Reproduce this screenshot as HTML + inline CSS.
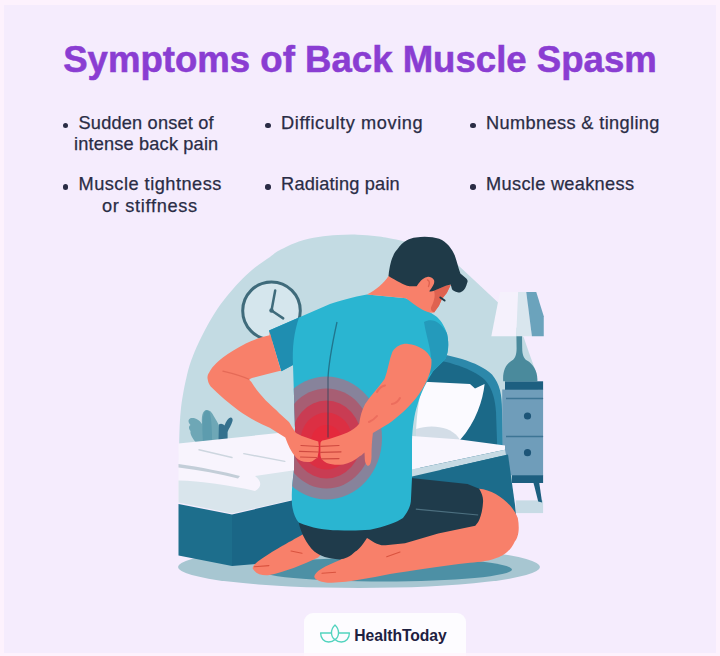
<!DOCTYPE html>
<html><head><meta charset="utf-8">
<style>
html,body{margin:0;padding:0}
body{width:720px;height:656px;overflow:hidden;background:#f5ecfd;font-family:"Liberation Sans",sans-serif;position:relative}
.tw{position:absolute;top:36.1px;font-size:36.6px;line-height:48px;font-weight:bold;color:#8a3dd2;-webkit-text-stroke:0.55px #8a3dd2;white-space:nowrap;transform-origin:0 0}
.b{position:absolute;font-size:18.2px;line-height:22px;height:22px;color:#2a2c45;white-space:nowrap;-webkit-text-stroke:0.25px #2a2c45}
.dot{position:absolute;width:5.4px;height:5.4px;border-radius:50%;background:#2a2c45}
#tab{position:absolute;left:304px;top:612.5px;width:162px;height:50px;background:#fdfcff;border-radius:9px 9px 0 0}
#brand{position:absolute;left:354.3px;top:625.8px;font-size:15.7px;line-height:20px;font-weight:bold;color:#1d2040;white-space:nowrap;letter-spacing:-0.05px}
svg{position:absolute;left:0;top:0}
</style></head><body>
<span class="tw" id="title" style="left:63.2px">Symptoms of Back Muscle Spasm</span>

<i class="dot" style="left:62.6px;top:122.6px"></i>
<i class="dot" style="left:62.6px;top:184.3px"></i>
<i class="dot" style="left:265.3px;top:122.6px"></i>
<i class="dot" style="left:265.3px;top:184.3px"></i>
<i class="dot" style="left:470.3px;top:122.6px"></i>
<i class="dot" style="left:470.3px;top:184.3px"></i>
<span class="b" id="l1" style="left:78.5px;top:111.7px;letter-spacing:0.19px">Sudden onset of</span>
<span class="b" id="l2" style="left:74.1px;top:133.3px;letter-spacing:0.16px">intense back pain</span>
<span class="b" id="l3" style="left:78.5px;top:173.1px;letter-spacing:0.49px">Muscle tightness</span>
<span class="b" id="l4" style="left:101.9px;top:194.5px;letter-spacing:0.7px">or stiffness</span>
<span class="b" id="l5" style="left:281.1px;top:111.7px;letter-spacing:0.59px">Difficulty moving</span>
<span class="b" id="l6" style="left:281.1px;top:173.1px;letter-spacing:0.18px">Radiating pain</span>
<span class="b" id="l7" style="left:486.1px;top:111.7px;letter-spacing:0.36px">Numbness &amp; tingling</span>
<span class="b" id="l8" style="left:486.1px;top:173.1px;letter-spacing:0.31px">Muscle weakness</span>

<svg id="art" width="720" height="656" viewBox="0 0 720 656">
<!--ART-->
<defs>
<clipPath id="torsoClip"><path id="torsoP" d="M367,294.4 C353,297 340,300.5 330,304 L269,330.4 L281.4,371.2 L293,365 L295,428 L294,470 C292,485 291.5,495 292,504.8 C293,512 295,518 298.7,522.4 C312,528 325,530 337.7,530.2 C350,530.7 360,530.5 370,529.7 C385,527 397,522 403,518 C409,510 411,505 411,498.5 L412,478 L412,440 C412.5,428 414,415 417.7,404 C421,392 427,381 433.3,371 L445,359.5 C448,354 449.5,345 447,333.4 C444,325 440,319 435.3,315.8 C425,309 415,303 406,298.3 Z"/></clipPath>
</defs>
<!-- background blob -->
<path d="M179.0,470.0 C179.0,465.2 178.9,451.7 179.2,441.4 C179.5,431.1 179.7,419.1 181.0,408.0 C182.3,396.9 184.8,384.3 187.0,375.0 C189.2,365.7 191.5,359.5 194.5,352.0 C197.5,344.5 201.2,337.2 205.0,330.0 C208.8,322.8 213.3,315.0 217.5,308.8 C221.7,302.5 225.8,297.5 230.0,292.5 C234.2,287.5 238.3,282.9 242.5,278.8 C246.7,274.6 250.4,271.1 255.0,267.5 C259.6,263.9 265.9,259.8 270.0,256.9 C274.1,254.0 274.7,252.9 279.5,250.3 C284.3,247.7 292.4,243.7 298.9,241.5 C305.4,239.3 311.9,238.2 318.4,237.1 C324.9,236.0 331.3,235.5 337.8,235.1 C344.3,234.7 350.8,234.5 357.3,234.7 C363.8,234.9 370.2,235.5 376.7,236.3 C383.2,237.1 388.1,237.8 396.2,239.6 C404.2,241.4 420.2,245.8 425.0,247.0 L452,259.5 L470,276.3 L498.1,302.5 L523.75,337.5 L528.75,352 L537,375 L543,480 L179,500 Z" fill="#c3dbe3"/>
<!-- clock -->
<circle cx="271.5" cy="310.7" r="28.8" fill="#d5e6ed" stroke="#3f6b7b" stroke-width="3"/>
<circle cx="271.5" cy="310.5" r="2.2" fill="#3f6b7b"/>
<path d="M275.2,290.5 L271.5,310.5 L283.2,318.4" fill="none" stroke="#3f6b7b" stroke-width="2.5" stroke-linecap="round" stroke-linejoin="round"/>
<!-- plant -->
<path d="M196.5,443 C192,438 190,434 190.5,431 C188.5,429 188.5,426 190.5,425 C187.5,422 188,418.5 191.5,418 C195.5,417.5 199.5,420 202,424 C201.5,418 202,412.5 205,410.5 C208,409 211.5,411 214,416.5 C216,420 218,423 218.9,425.3 L219.5,441 Z" fill="#6ea7b6"/>
<path d="M203,442 C202,430 202,418 204.5,412 C206,409.5 209,410 210,413 C211.5,420 212,430 212,441 Z" fill="#5d9cae"/>
<path d="M218.5,441 L218.9,424.5 C221,423 223,424 224.5,425.5 C226,421 228.5,418 230.5,417.5 C232.5,417.5 233,419.5 232.5,421 C231.5,425 228.5,429 227.6,432 L227.6,440 Z" fill="#34718e"/>
<!-- floor shadow -->
<ellipse cx="359" cy="567" rx="181" ry="21" fill="#a7c6d1"/>
<ellipse cx="384" cy="569.5" rx="128" ry="12" fill="#4d90a5"/>
<!-- nightstand -->
<rect x="515.8" y="500.4" width="27.3" height="12.7" fill="#c7dbe5"/>
<path d="M533.4,482.5 L539.2,482.5 L542.1,502.4 L538.2,501.4 Z" fill="#1d5f80"/>
<rect x="511.9" y="475" width="31.2" height="8" fill="#1d5f80"/>
<rect x="502.2" y="389.5" width="40.9" height="85.8" fill="#6f9dba"/>
<rect x="505" y="381.3" width="38.1" height="8.5" fill="#1d5f80"/>
<path d="M506,398.5 H543.1 M506,436.5 H543.1" stroke="#3d7595" stroke-width="1.3"/>
<circle cx="527.5" cy="416" r="3.6" fill="#1d5578"/>
<circle cx="527.5" cy="452.7" r="3.6" fill="#1d5578"/>
<!-- lamp -->
<path d="M503.2,381.3 C502.5,371 506,364 512,360.5 C515.5,358.5 516.6,354 516.6,348 L516.4,336 L522,336 L522.2,348 C522.2,354 523.5,358.5 527,360.5 C533,364 538,371 537.3,381.3 Z" fill="#4a8a9c"/>
<path d="M500,291.9 L518.1,291.9 L516.25,336.3 L491.3,336.3 Z" fill="#f5f1fc"/>
<path d="M518.1,291.9 L526.25,291.9 L531.9,336.3 L516.25,336.3 Z" fill="#d9e6ee"/>
<path d="M526.25,291.9 L536.25,291.9 L543.75,316.25 L543.75,336.3 L531.9,336.3 Z" fill="#6ba3bc"/>
<!-- headboard -->
<path d="M420,350 C450,355 478,361 492,374.5 C500,384 502,395 502,410 L503,470 L420,470 Z" fill="#2c88aa"/>
<path d="M420,357 C448,361 472,368 485,380 C493,389 495,400 496,412 L498,470 L420,470 Z" fill="#1b6988"/>
<!-- pillow -->
<path d="M416,432 C417,410 420,392 424,381.8 L470,384 L475,388.5 L484.6,383.9 C483,400 476,422 460,440 L416,438 Z" fill="#fbfaff"/>
<path d="M416,429 C430,424 450,426 458,437 L460,440 L416,438 Z" fill="#d3dde7"/>
<!-- mattress right -->
<path d="M412,436 L460,439.5 L505,445.5 L505,449.7 L412,469.5 Z" fill="#f9f6fe"/>
<path d="M412,469.5 L505,449.7 L506,455 L412,476.5 Z" fill="#c6dae4"/>
<path d="M412,476.5 L508,454.6 L515,505 L518,535 L412,535 Z" fill="#1c6c8b"/>
<!-- bed left -->
<path d="M178.5,443.5 L293,431.5 L296,431.5 L296,499 L232,513.5 L178.5,502.5 Z" fill="#f8f4fd"/>
<path d="M178.5,480.5 C200,481 230,485 255,491 C262,487 262,481 255,476 L296,470 L296,499 L232,513.5 L178.5,502.5 Z" fill="#d9e5ec"/>
<path d="M178.5,464 C200,467 225,472 240,476 L238,478.5 C220,474 200,470 178.5,467.5 Z" fill="#c3ced8"/>
<path d="M199,449.7 L232,457.5 M243.8,453.6 L284.8,461.4" stroke="#cdd6df" stroke-width="1.4" fill="none" stroke-linecap="round"/>
<path d="M178.5,504 L232,514.5 L232,566 L178.5,555.5 Z" fill="#1d6e8c"/>
<path d="M232,514.5 L296,499.5 L306,500 L306,560 L232,566 Z" fill="#1a6686"/>
<!-- legs -->
<path d="M479,488.7 C495,490 512,503 517.8,518 C520,530 518,538 514.8,541.4 C510,552 502,556 499.2,557 C490,561 480,562 470,562.8 C440,566 410,571 390,574 C370,578 350,582 331.9,582.8 C322,583 315,580 314.3,577 C314,572 325,566 340,560 C350,555 358,546 364,538.5 C368,534 374,533 379,536 L385.6,530 L438.2,520 L470,500 Z" fill="#f8806a"/>
<path d="M300,536 C290,541.5 279.2,547.7 279.2,547.7 C270,553 263,557.5 257.8,561.4 C253,565 252,568 253,569 C256,574 263,576 269.5,575 C285,572 302,565 318.2,557.5 L330,545 L310,530 Z" fill="#f8806a"/>
<path d="M254.4,566.7 L268.9,565.6 M291,551 L302,553.3 M322,573.3 L335.6,572.2 M386.7,556.7 L400,552" stroke="#d9533f" stroke-width="1.1" fill="none" stroke-linecap="round"/>
<!-- shorts -->
<path d="M298.7,515 L411,478 L467.5,483.9 L479.2,488.7 C482,493 483.5,498 483,502.4 C482.5,510 481,517 478.2,521.9 L475.3,525.8 L438.2,533.6 L405,543.3 L385.6,545.3 C378,546 372,541 367,538 C362,546 358,550 355.3,551.6 C350,557 345,559 339.7,559.4 C328,559 320,556 314.3,551.6 C306,543 301,533 298.7,522.4 Z" fill="#1f3b4b"/>
<path d="M415.8,509.2 L478.2,515" stroke="#4d7080" stroke-width="1.2"/>
<!-- torso -->
<path d="M367,294.4 C353,297 340,300.5 330,304 L269,330.4 L281.4,371.2 L293,365 L295,428 L294,470 C292,485 291.5,495 292,504.8 C293,512 295,518 298.7,522.4 C312,528 325,530 337.7,530.2 C350,530.7 360,530.5 370,529.7 C385,527 397,522 403,518 C409,510 411,505 411,498.5 L412,478 L412,440 C412.5,428 414,415 417.7,404 C421,392 427,381 433.3,371 L445,359.5 C448,354 449.5,345 447,333.4 C444,325 440,319 435.3,315.8 C425,309 415,303 406,298.3 Z" fill="#2ab5d1"/>
<!-- left sleeve dark -->
<path d="M269,330.4 L299,317.5 C294,332 292,348 293,365 L281.4,371.2 Z" fill="#1f8eb1"/>
<!-- right sleeve dark -->
<path d="M424,322 C432,318 440,321 447,333.4 C449.5,345 448,354 445,359.5 L433.3,371 L428,376 C430,368 431,362 431.4,359.5 C430,345 426,335 424,322 Z" fill="#249abb"/>
<!-- pain rings -->
<g clip-path="url(#torsoClip)">
<ellipse cx="326.5" cy="438" rx="55.5" ry="61.5" fill="#87839b"/>
<ellipse cx="326.5" cy="438.5" rx="45" ry="50" fill="#a75e73"/>
<ellipse cx="326.5" cy="439.5" rx="35" ry="39" fill="#c93c53"/>
<ellipse cx="326.5" cy="441" rx="26" ry="28.5" fill="#dc2f43"/>
<ellipse cx="326.5" cy="442" rx="15.5" ry="17" fill="#e4293c"/>
</g>
<!-- spine -->
<path d="M337,322 C332,345 328.5,362 328,379 L328,437.5" fill="none" stroke="#1a3f55" stroke-opacity=".55" stroke-width="1.3"/>
<!-- neck + head -->
<path d="M367,294.4 C376,290 384,283 388.5,275.9 L410,270 L445,275 L450.7,284.9 L446.8,293.1 L441.9,299 L439,305.8 L434.1,312.6 C430,313.3 426,311.5 422,309.5 C416,306 410,301.5 406,298.3 Z" fill="#f8806a"/>
<path d="M434,290.7 L445.8,285.8 L450.7,284.9 L446.8,293.1 L441.9,299 L439,305.8 L434.1,312.6 C431.5,311.5 430.5,309.5 431,307.5 C433,303 436,297 434,290.7 Z" fill="#df6250"/>
<path d="M440.3,297.4 L444.6,300.6" stroke="#1f3a48" stroke-width="1.9" stroke-linecap="round"/>
<!-- hair -->
<path d="M388.5,275.9 C390,262 393,254 397.2,249.5 C403,241 410,238 415.8,237.5 C425,236 433,237 439.2,238.8 C447,242 452,249 454.8,255.4 C457,262 458.5,268 460.4,273.6 L466.3,278.5 C467.8,280 467.8,281.5 467.3,282.4 C466,287 464.5,290 462.4,291.2 C460.5,292.5 459,292.6 457.5,292.2 C455,291.5 453,290.5 452,289.2 L450.7,284.4 L445.8,285.8 L434,290.7 C432,291.5 430.5,291.8 429.2,291.2 C431,289 433,286 434,283.4 C434.5,281.5 434.2,280 433.6,279.5 C432,277.5 429.5,276.5 427.3,277 C424.5,277.5 422.5,279 421,280.5 C419,283 417.5,285 416.6,286.3 L409.7,286.3 C406,285.5 403,284 400,282.4 C396,280.5 392,278 388.5,275.9 Z" fill="#1f3a48"/>
<path d="M427.5,280 C429.5,280.5 430,283 428.5,286.5" stroke="#df6250" stroke-width="1.4" fill="none" stroke-linecap="round"/>
<!-- right arm -->
<path d="M408,343.9 C418,345 428,350 431.4,359.5 C432,367 430,373 427.5,379 C424,387 420,393 415.8,398.5 C408,408 398,417 388.5,423.8 L372.9,433 C372,440 371.5,448 371.5,456 C371.5,461 370.5,465 368.5,465.8 C366.5,466 365,463 364.8,459 L364.5,452.5 C362,455 360.5,456 360,456 C355,460.5 349,463.5 343.3,464.4 C337,465.3 331,464.5 326.7,463 C322.5,461 320.5,458 320.4,455 L320.4,444 C320.4,441.5 322,440.5 324,440.3 C332,438.5 340,435.5 347.5,432.5 C352,430.5 356,427.5 359.2,423.8 C360,417 362,410 365,404.3 C371,395 379,387 384.6,379 C388,370 389,360 392.4,351.7 C396,346 402,343.5 408,343.9 Z" fill="#f8806a"/>
<path d="M320.6,446.3 L339,445.5 M320.6,452.3 L341,451.8 M321.5,458.9 L339,458.6" stroke="#cf4a40" stroke-width="1.2" stroke-linecap="round" fill="none"/>
<path d="M377,392 C379,388 382,386 385,385.5 M392,404 C395,403.5 398,401.5 400,398 M369,422 C372,420.5 375,418.5 377,416" stroke="#e9685a" stroke-width="2" fill="none" stroke-linecap="round" opacity=".8"/>
<!-- left arm -->
<path d="M269.5,335.2 C261,337 253,340 245.8,343.6 C237,348 229,353 222.9,357.4 C216,363 211,368 209.2,372.6 C207.5,375 207.3,377 207.6,378.8 C208,382 209,384.5 210.7,386.4 C219,395 229,403 238.2,410.2 C248,417.5 259,423 269.7,427.7 L285.3,437.5 C288,445 291,452 296,457.5 C299,461 305,463 312,461.5 L317.5,457.5 L318.5,452 L318.8,446 L318.3,441.5 C311,439 303,437 296,433 C293,429 291,425 289,421.9 C284.5,418 280,414 276.4,410.2 C272.5,406.5 269,403.5 265.8,400.4 C260,394.5 255,388 251.2,381.8 L248.9,379.5 L252,378 C261,376 270,373.5 279.4,371.1 L281,371 L269.5,331.4 Z" fill="#f8806a"/>
<path d="M248.9,379.3 C243,376.5 233,373.5 222.9,371.1" stroke="#e56a57" stroke-width="1.2" fill="none" stroke-linecap="round"/>
<path d="M301,445.5 L318.6,446.5 M299.5,451.3 L318.4,452 M300.5,457 L316.5,457.5" stroke="#cf4a40" stroke-width="1.2" stroke-linecap="round" fill="none"/>
</svg>
<div id="tab"></div>
<svg id="logo" width="40" height="30" viewBox="315 620 40 30" style="left:315px;top:620px"><g fill="none" stroke="#52d3be" stroke-width="1.35" stroke-linecap="round" stroke-linejoin="round"><path d="M335,624.9 C332.2,627.5 331.4,630.5 331.5,633 C331.6,636 333,638.5 335,639.6 C337,638.5 338.4,636 338.5,633 C338.6,630.5 337.8,627.5 335,624.9 Z"/><path d="M331.3,633 L320.6,633 C320.6,638.2 324,642 328.6,642 C331.3,642 333.6,641 335,639.6"/><path d="M338.7,633 L349.4,633 C349.4,638.2 346,642 341.4,642 C338.7,642 336.4,641 335,639.6"/></g></svg>
<span id="brand">HealthToday</span>
<div style="position:absolute;left:0;top:0;width:720px;height:656px;box-sizing:border-box;border-style:solid;border-color:rgba(255,244,252,.75);border-width:5px 4px 3px 4px;pointer-events:none"></div>
</body></html>
